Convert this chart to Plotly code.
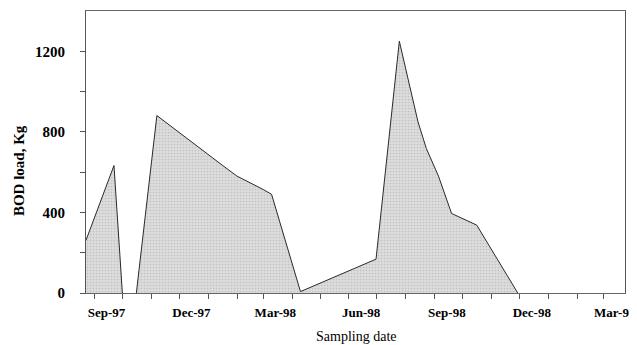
import plotly.graph_objects as go

# Sampling dates (None = gap with no data between the two campaigns)
dates = ["1997-08-23", "1997-09-22", "1997-10-01", None,
         "1997-10-16", "1997-11-07", "1998-01-16", "1998-02-01", "1998-03-01",
         "1998-03-10", "1998-04-10", "1998-06-30", "1998-07-25", "1998-08-05",
         "1998-08-14", "1998-08-23", "1998-09-05", "1998-09-19", "1998-10-16",
         "1998-11-29"]
bod_load = [262, 633, 0, None,
            0, 881, 635, 580, 514,
            490, 7, 168, 1250, 1030,
            850, 717, 580, 395, 337,
            0]

x_label_dates = ["1997-09-14", "1997-12-14", "1998-03-14", "1998-06-14",
                 "1998-09-14", "1998-12-14", "1999-03-13"]
x_label_text = ["Sep-97", "Dec-97", "Mar-98", "Jun-98", "Sep-98", "Dec-98", "Mar-99"]
y_tick_vals = [0, 200, 400, 600, 800, 1000, 1200]
y_tick_text = ["0", "", "400", "", "800", "", "1200"]

font_family = "Liberation Serif, Times New Roman, serif"

fig = go.Figure()
fig.add_trace(go.Scatter(
    x=dates, y=bod_load, mode="lines", fill="tozeroy",
    connectgaps=False,
    line=dict(color="#2a2a2a", width=1),
    fillcolor="#d6d6d6",
    fillpattern=dict(shape=".", fgcolor="#a8a8a8", bgcolor="#dcdcdc",
                     size=3, solidity=0.25),
    hoverinfo="skip", showlegend=False,
))

# the page body has an 8px default margin, so the figure is sized/offset to compensate
fig.update_layout(
    width=629, height=337,
    margin=dict(l=78, r=12, t=3, b=52, autoexpand=False),
    paper_bgcolor="white", plot_bgcolor="white",
    font=dict(family=font_family, color="black"),
    xaxis=dict(
        type="date", automargin=False,
        range=["1997-08-23", "1999-03-24"],
        tickvals=x_label_dates, ticktext=x_label_text,
        ticks="", showgrid=False, zeroline=False,
        tickfont=dict(size=13, family=font_family, weight="bold"),
        ticklabelstandoff=7, ticklabeloverflow="allow",
        showline=True, linecolor="#666", linewidth=1, mirror=True,
        minor=dict(ticks="outside", ticklen=5, tickcolor="#555",
                   tick0="1997-09-01", dtick="M1", showgrid=False),
    ),
    yaxis=dict(
        range=[0, 1400], automargin=False,
        tickvals=y_tick_vals, ticktext=y_tick_text,
        ticks="outside", ticklen=5, tickcolor="#555",
        showgrid=False, zeroline=False,
        tickfont=dict(size=15, family=font_family, weight="bold"),
        ticklabelstandoff=12,
        showline=True, linecolor="#555", linewidth=1, mirror=True,
    ),
    annotations=[
        dict(text="<b>BOD load, Kg</b>", xref="paper", yref="paper",
             x=-0.124, y=0.433, textangle=-90, showarrow=False,
             xanchor="center", yanchor="middle",
             font=dict(size=15, family=font_family, color="black")),
        dict(text="Sampling date", xref="paper", yref="paper",
             x=0.501, y=-0.1525, showarrow=False,
             xanchor="center", yanchor="middle",
             font=dict(size=14, family=font_family, color="black")),
    ],
)

fig.write_html("out.html")
